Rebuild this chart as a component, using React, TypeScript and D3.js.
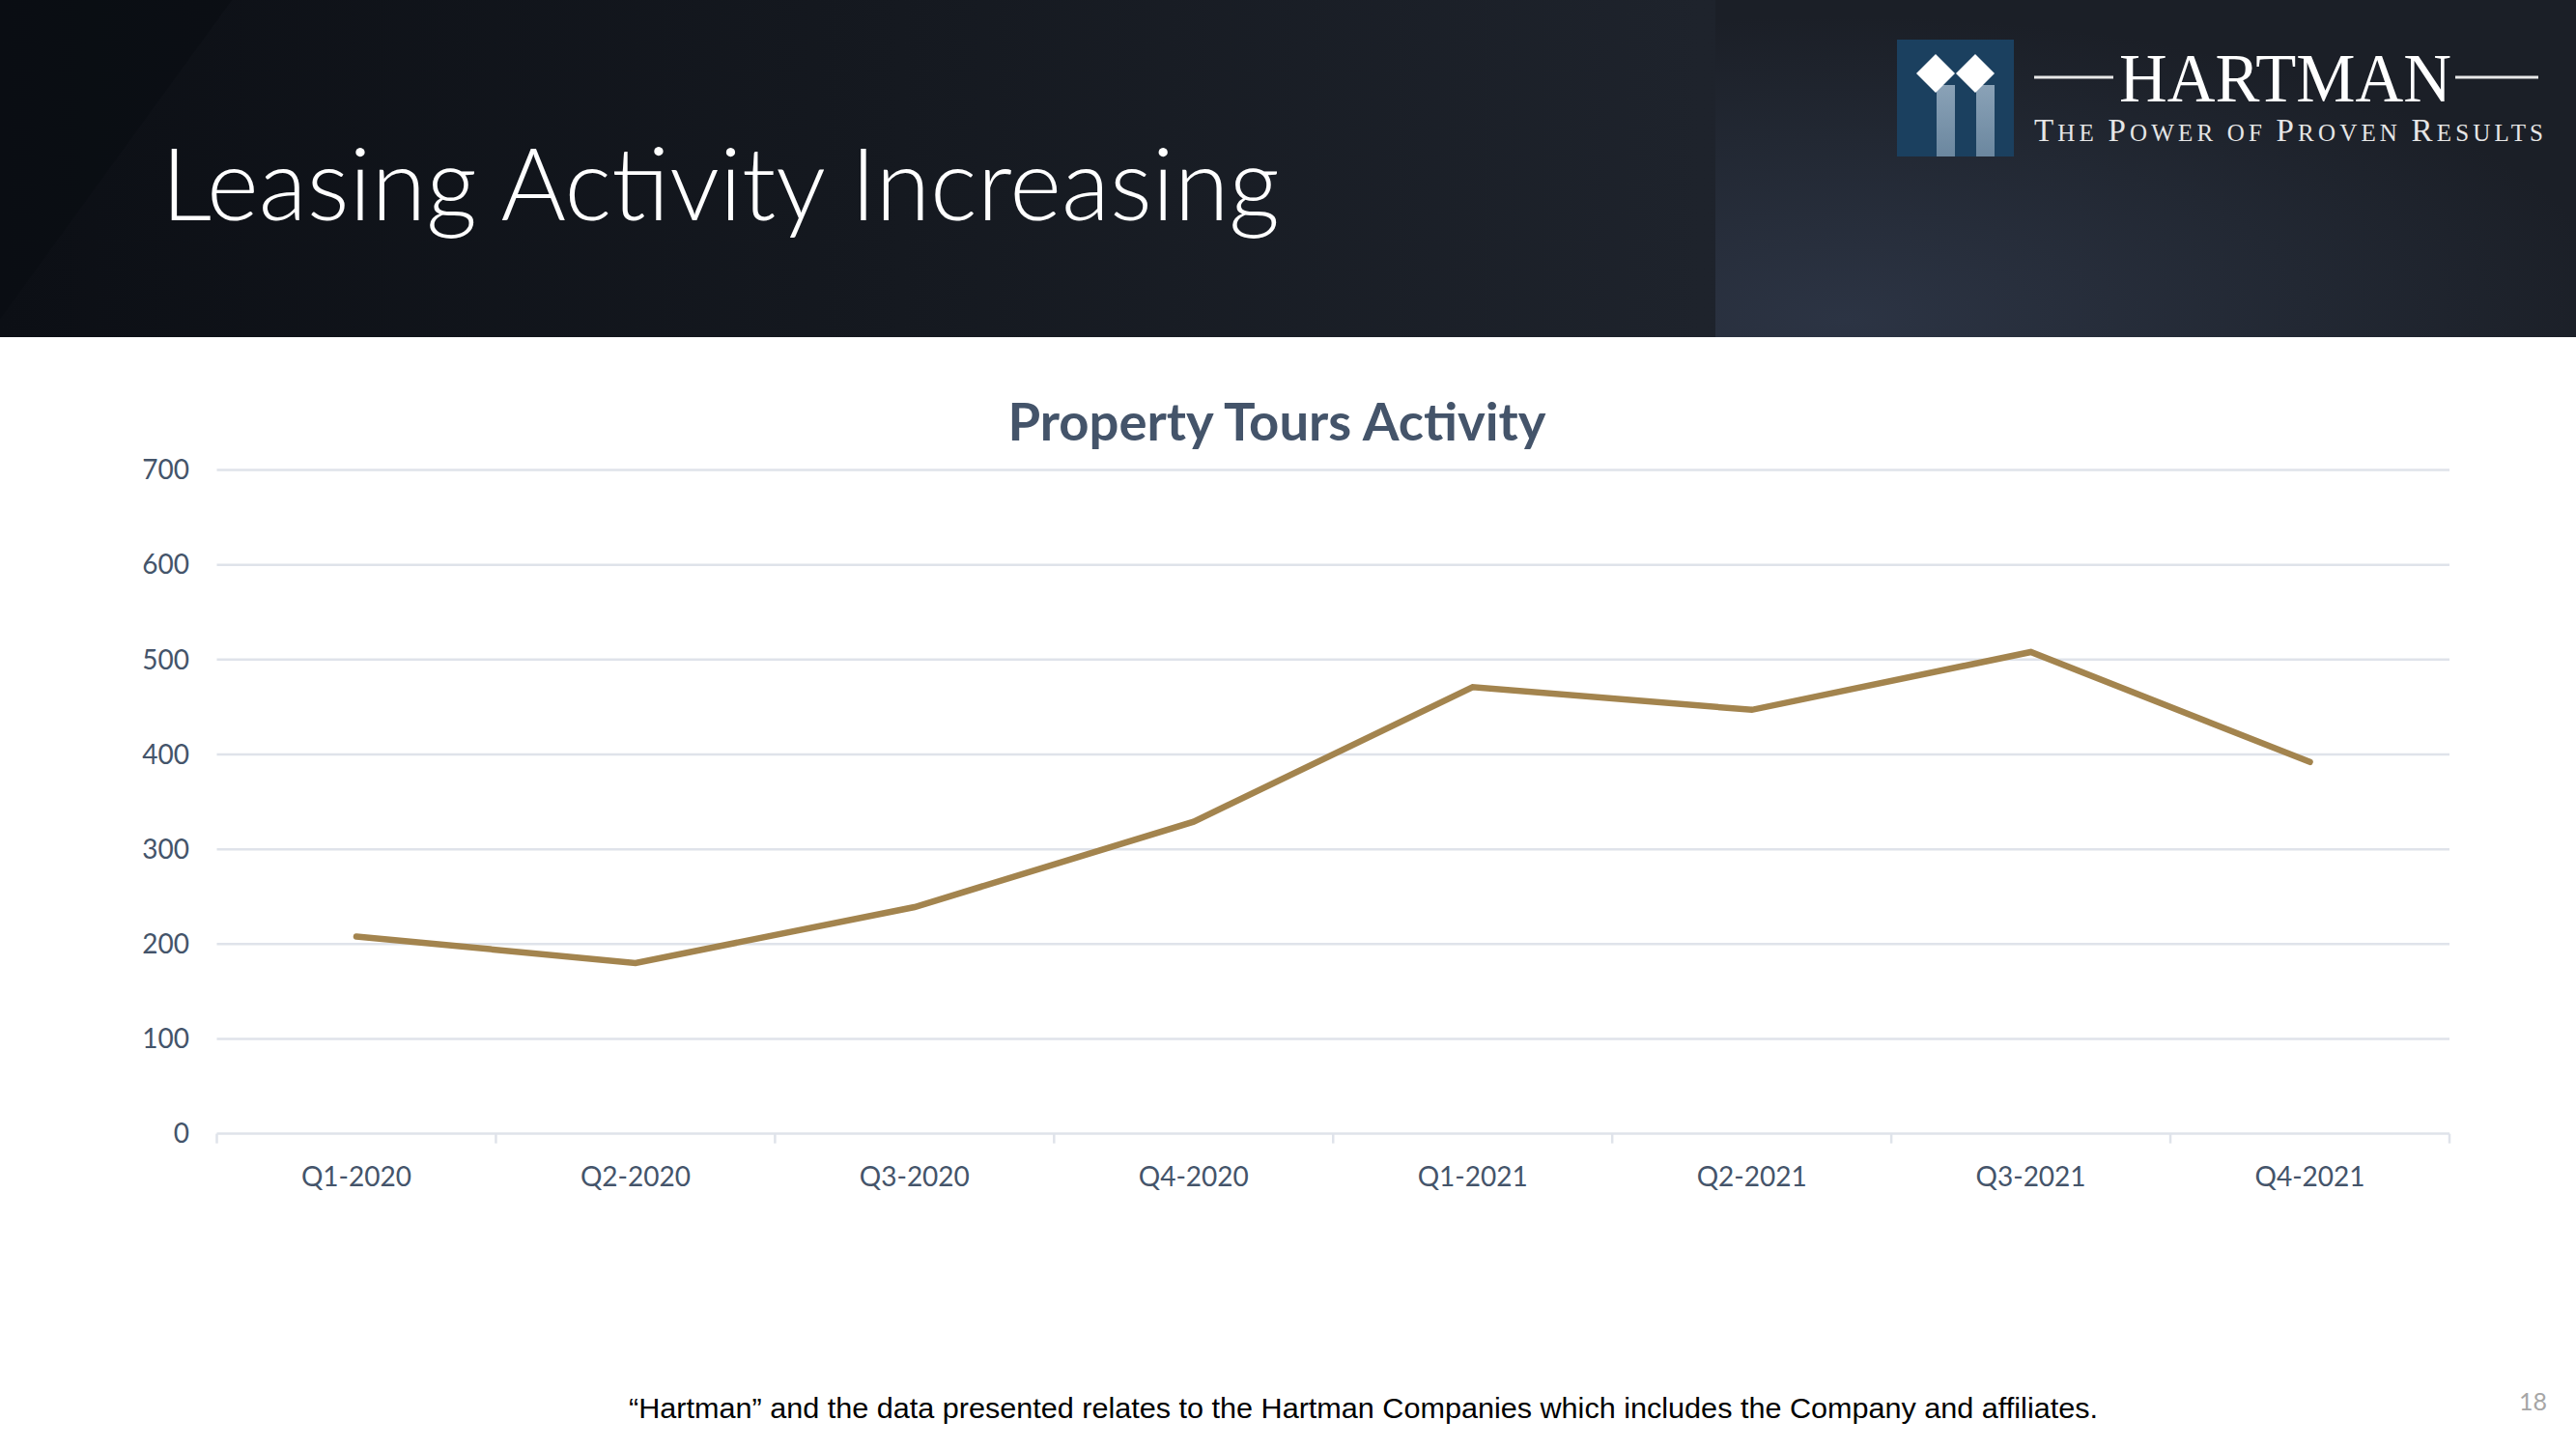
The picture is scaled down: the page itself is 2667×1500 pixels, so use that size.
import React from "react";
import * as d3 from "d3";

const categories = ["Q1-2020", "Q2-2020", "Q3-2020", "Q4-2020", "Q1-2021", "Q2-2021", "Q3-2021", "Q4-2021"];
const tours = [208, 180, 239, 329, 471, 447, 508, 392];
const yTicks = [0, 100, 200, 300, 400, 500, 600, 700];
const pageTitle = "Leasing Activity Increasing";
const chartTitle = "Property Tours Activity";
const footnote = "\u201CHartman\u201D and the data presented relates to the Hartman Companies which includes the Company and affiliates.";
const pageNumber = "18";

const W = 2667;
const H = 1500;

export default function App() {
  const x = d3.scaleBand<string>().domain(categories).range([224.5, 2536]).paddingInner(0).paddingOuter(0);
  const y = d3.scaleLinear().domain([0, 700]).range([1173.6, 486.5]);
  const line = d3
    .line<number>()
    .x((_, i) => (x(categories[i]) as number) + x.bandwidth() / 2)
    .y((d) => y(d));
  const tickColor = "#44546a";
  const gridColor = "#dfe3ea";
  const boundaries = categories.map((c) => x(c) as number).concat([2536]);

  return (
    <svg width={W} height={H} viewBox={`0 0 ${W} ${H}`} style={{ position: "absolute", left: 0, top: 0, display: "block" }}>
      <defs>
        <linearGradient id="hdr" x1="0" y1="0" x2="1" y2="0">
          <stop offset="0" stopColor="#0c0f15" />
          <stop offset="0.35" stopColor="#151920" />
          <stop offset="0.66" stopColor="#1e232c" />
          <stop offset="1" stopColor="#1c2028" />
        </linearGradient>
        <radialGradient id="panel" cx="0.15" cy="0.95" r="0.9">
          <stop offset="0" stopColor="#2c3444" />
          <stop offset="0.6" stopColor="#222833" />
          <stop offset="1" stopColor="#1b1f27" />
        </radialGradient>
        <linearGradient id="bar" x1="0" y1="0" x2="0" y2="1">
          <stop offset="0" stopColor="#8aa2b7" />
          <stop offset="1" stopColor="#6b879f" />
        </linearGradient>
      </defs>
      <rect x={0} y={0} width={W} height={H} fill="#ffffff" />
      {/* header */}
      <rect x={0} y={0} width={W} height={349} fill="url(#hdr)" />
      <rect x={1776} y={0} width={W - 1776} height={349} fill="url(#panel)" />
      <polygon points="0,0 240,0 0,330" fill="#0a0d12" opacity={0.55} />
      <text
        x={167}
        y={228}
        fill="#ffffff"
        fontFamily="Lato, 'Open Sans', sans-serif"
        fontWeight={300}
        fontSize={104}
        textLength={1158}
        lengthAdjust="spacingAndGlyphs"
      >
        {pageTitle}
      </text>
      {/* logo */}
      <g>
        <rect x={1964} y={41} width={121} height={121} fill="#1b405f" />
        <rect x={2005} y={88} width={19} height={74} fill="url(#bar)" />
        <rect x={2046} y={88} width={19} height={74} fill="url(#bar)" />
        <polygon points="2004,56 2024,76 2004,96 1984,76" fill="#ffffff" />
        <polygon points="2045,56 2065,76 2045,96 2025,76" fill="#ffffff" />
        <line x1={2106} y1={80} x2={2188} y2={80} stroke="#e8e8e8" strokeWidth={3} />
        <line x1={2542} y1={80} x2={2628} y2={80} stroke="#e8e8e8" strokeWidth={3} />
        <text
          x={2194}
          y={105}
          fill="#ffffff"
          fontFamily="'Liberation Serif', 'DejaVu Serif', serif"
          fontSize={72}
          textLength={344}
          lengthAdjust="spacingAndGlyphs"
        >
          HARTMAN
        </text>
        <text
          x={2106}
          y={146}
          fill="#e6e6e6"
          fontFamily="'Liberation Serif', 'DejaVu Serif', serif"
          fontSize={25}
          textLength={527}
          lengthAdjust="spacing"
        >
          <tspan fontSize={33}>T</tspan>HE <tspan fontSize={33}>P</tspan>OWER OF <tspan fontSize={33}>P</tspan>ROVEN{" "}
          <tspan fontSize={33}>R</tspan>ESULTS
        </text>
      </g>
      {/* chart title */}
      <text
        x={1322}
        y={456}
        textAnchor="middle"
        fill="#44546a"
        fontFamily="Lato, 'Open Sans', sans-serif"
        fontWeight={700}
        fontSize={54}
        textLength={557}
        lengthAdjust="spacingAndGlyphs"
      >
        {chartTitle}
      </text>
      {/* gridlines */}
      {yTicks.map((t) => (
        <g key={t}>
          <line x1={224.5} x2={2536} y1={y(t)} y2={y(t)} stroke={gridColor} strokeWidth={2.5} />
          <text
            x={196}
            y={y(t)}
            dy="0.35em"
            textAnchor="end"
            fill={tickColor}
            fontFamily="Lato, 'Open Sans', sans-serif"
            fontSize={28}
          >
            {t}
          </text>
        </g>
      ))}
      {boundaries.map((bx, i) => (
        <line key={i} x1={bx} x2={bx} y1={y(0)} y2={y(0) + 10} stroke={gridColor} strokeWidth={2.5} />
      ))}
      {categories.map((c) => (
        <text
          key={c}
          x={(x(c) as number) + x.bandwidth() / 2}
          y={1228}
          textAnchor="middle"
          fill={tickColor}
          fontFamily="Lato, 'Open Sans', sans-serif"
          fontSize={28}
        >
          {c}
        </text>
      ))}
      <path d={line(tours) || ""} fill="none" stroke="#a3844e" strokeWidth={6.5} strokeLinejoin="miter" strokeLinecap="round" />
      {/* footer */}
      <text
        x={651}
        y={1468}
        fill="#000000"
        fontFamily="'Liberation Sans', Arial, sans-serif"
        fontSize={29}
        textLength={1521}
        lengthAdjust="spacingAndGlyphs"
      >
        {footnote}
      </text>
      <text x={2637} y={1460} textAnchor="end" fill="#a6a6a6" fontFamily="Lato, 'Open Sans', sans-serif" fontSize={25}>
        {pageNumber}
      </text>
    </svg>
  );
}
